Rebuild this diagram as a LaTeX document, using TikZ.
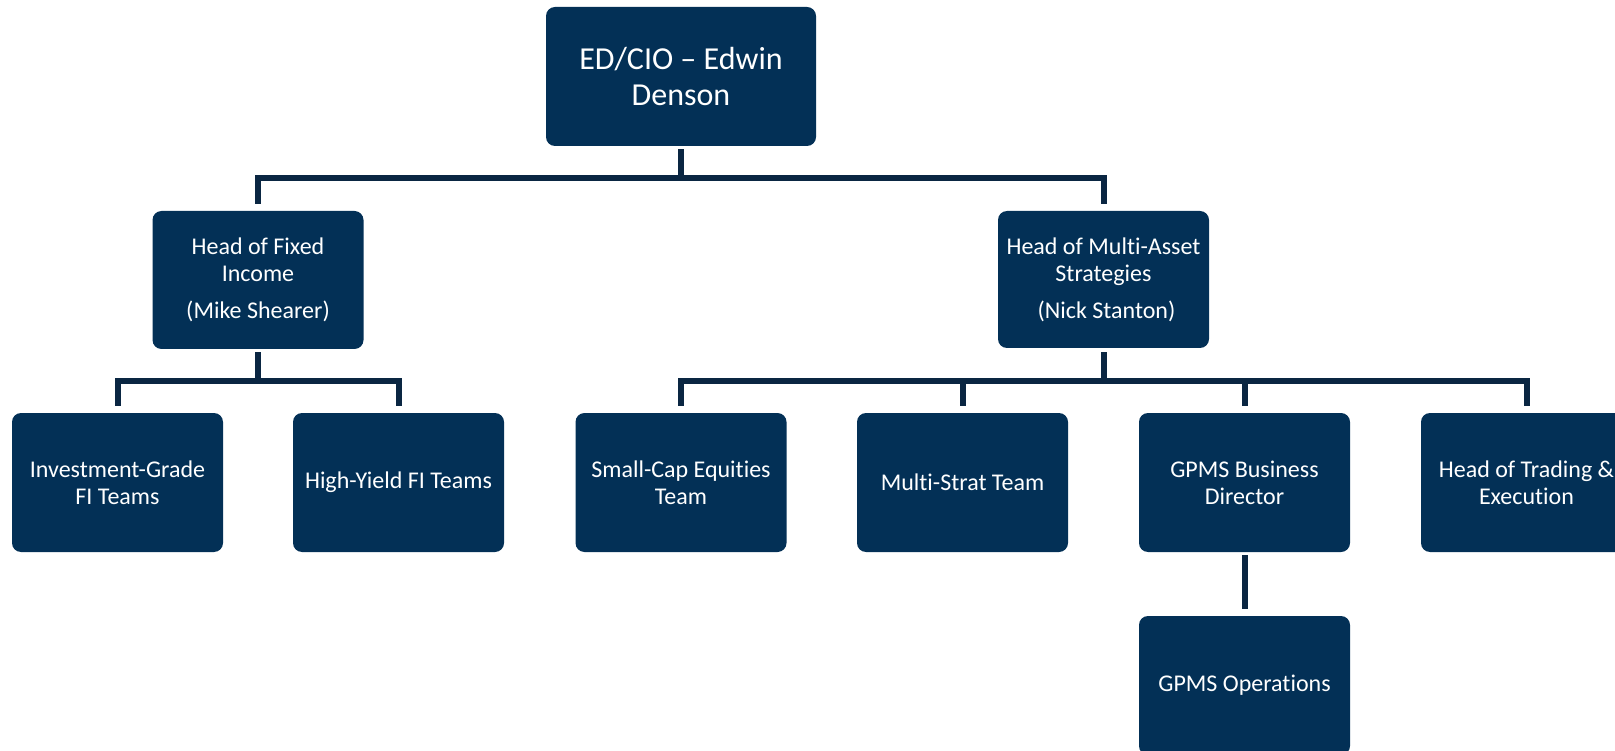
\documentclass[tikz,border=0pt]{standalone}
\usepackage{fontspec}
\setmainfont{Carlito}[RawFeature={-liga}]
\usetikzlibrary{calc}
\definecolor{boxfill}{RGB}{3,48,86}
\definecolor{linecol}{RGB}{10,38,66}
\tikzset{
  orgbox/.style={rectangle, rounded corners=9pt, fill=boxfill, text=white,
    minimum width=211pt, minimum height=139pt, inner sep=0pt, align=center,
    font=\fontsize{24}{27}\selectfont},
  topbox/.style={orgbox, minimum width=270pt, font=\fontsize{32}{36}\selectfont},
  conn/.style={draw=linecol, line width=6pt, line join=miter},
}
\begin{document}
\begin{tikzpicture}[x=1pt,y=-1pt]
\useasboundingbox (0,0) rectangle (1615,751);
\clip (0,0) rectangle (1615,751);
\node[topbox] (ceo) at (681,76.5) {ED/CIO – Edwin\\Denson};
\node[orgbox, minimum height=138pt] (fi) at (258,280) {Head of Fixed\\Income\\[10pt](Mike Shearer)};
\node[orgbox, minimum height=137pt] (ma) at (1103.5,279.5) {Head of Multi-Asset\\Strategies\\[10pt]\hspace*{6pt}(Nick Stanton)};
\node[orgbox] (ig) at (117.5,482.5) {Investment-Grade\\FI Teams};
\node[orgbox] (hy) at (398.5,482.5) {High-Yield FI Teams};
\node[orgbox] (sc) at (681,482.5) {Small-Cap Equities\\Team};
\node[orgbox] (ms) at (962.5,482.5) {Multi-Strat Team};
\node[orgbox] (gp) at (1244.5,482.5) {GPMS Business\\Director};
\node[orgbox] (tr) at (1526.5,482.5) {Head of Trading \&\\Execution};
\node[orgbox] (op) at (1244.5,685.5) {GPMS Operations};
% level 1 -> 2
\draw[conn] ([yshift=-3pt]ceo.south) -- (ceo.south |- 0,178);
\draw[conn] ([yshift=7pt]fi.north) -- (fi.north |- 0,178) -- (ma.north |- 0,178) -- ([yshift=7pt]ma.north);
% FI -> children
\draw[conn] ([yshift=-3pt]fi.south) -- (fi.south |- 0,381);
\draw[conn] ([yshift=7pt]ig.north) -- (ig.north |- 0,381) -- (hy.north |- 0,381) -- ([yshift=7pt]hy.north);
% MA -> children
\draw[conn] ([yshift=-4pt]ma.south) -- (ma.south |- 0,381);
\draw[conn] ([yshift=7pt]sc.north) -- (sc.north |- 0,381) -- (tr.north |- 0,381) -- ([yshift=7pt]tr.north);
\draw[conn] ([yshift=7pt]ms.north) -- (ms.north |- 0,381);
\draw[conn] ([yshift=7pt]gp.north) -- (gp.north |- 0,381);
% GPMS -> operations
\draw[conn] ([yshift=-3pt]gp.south) -- ([yshift=7pt]op.north);
\end{tikzpicture}
\end{document}
